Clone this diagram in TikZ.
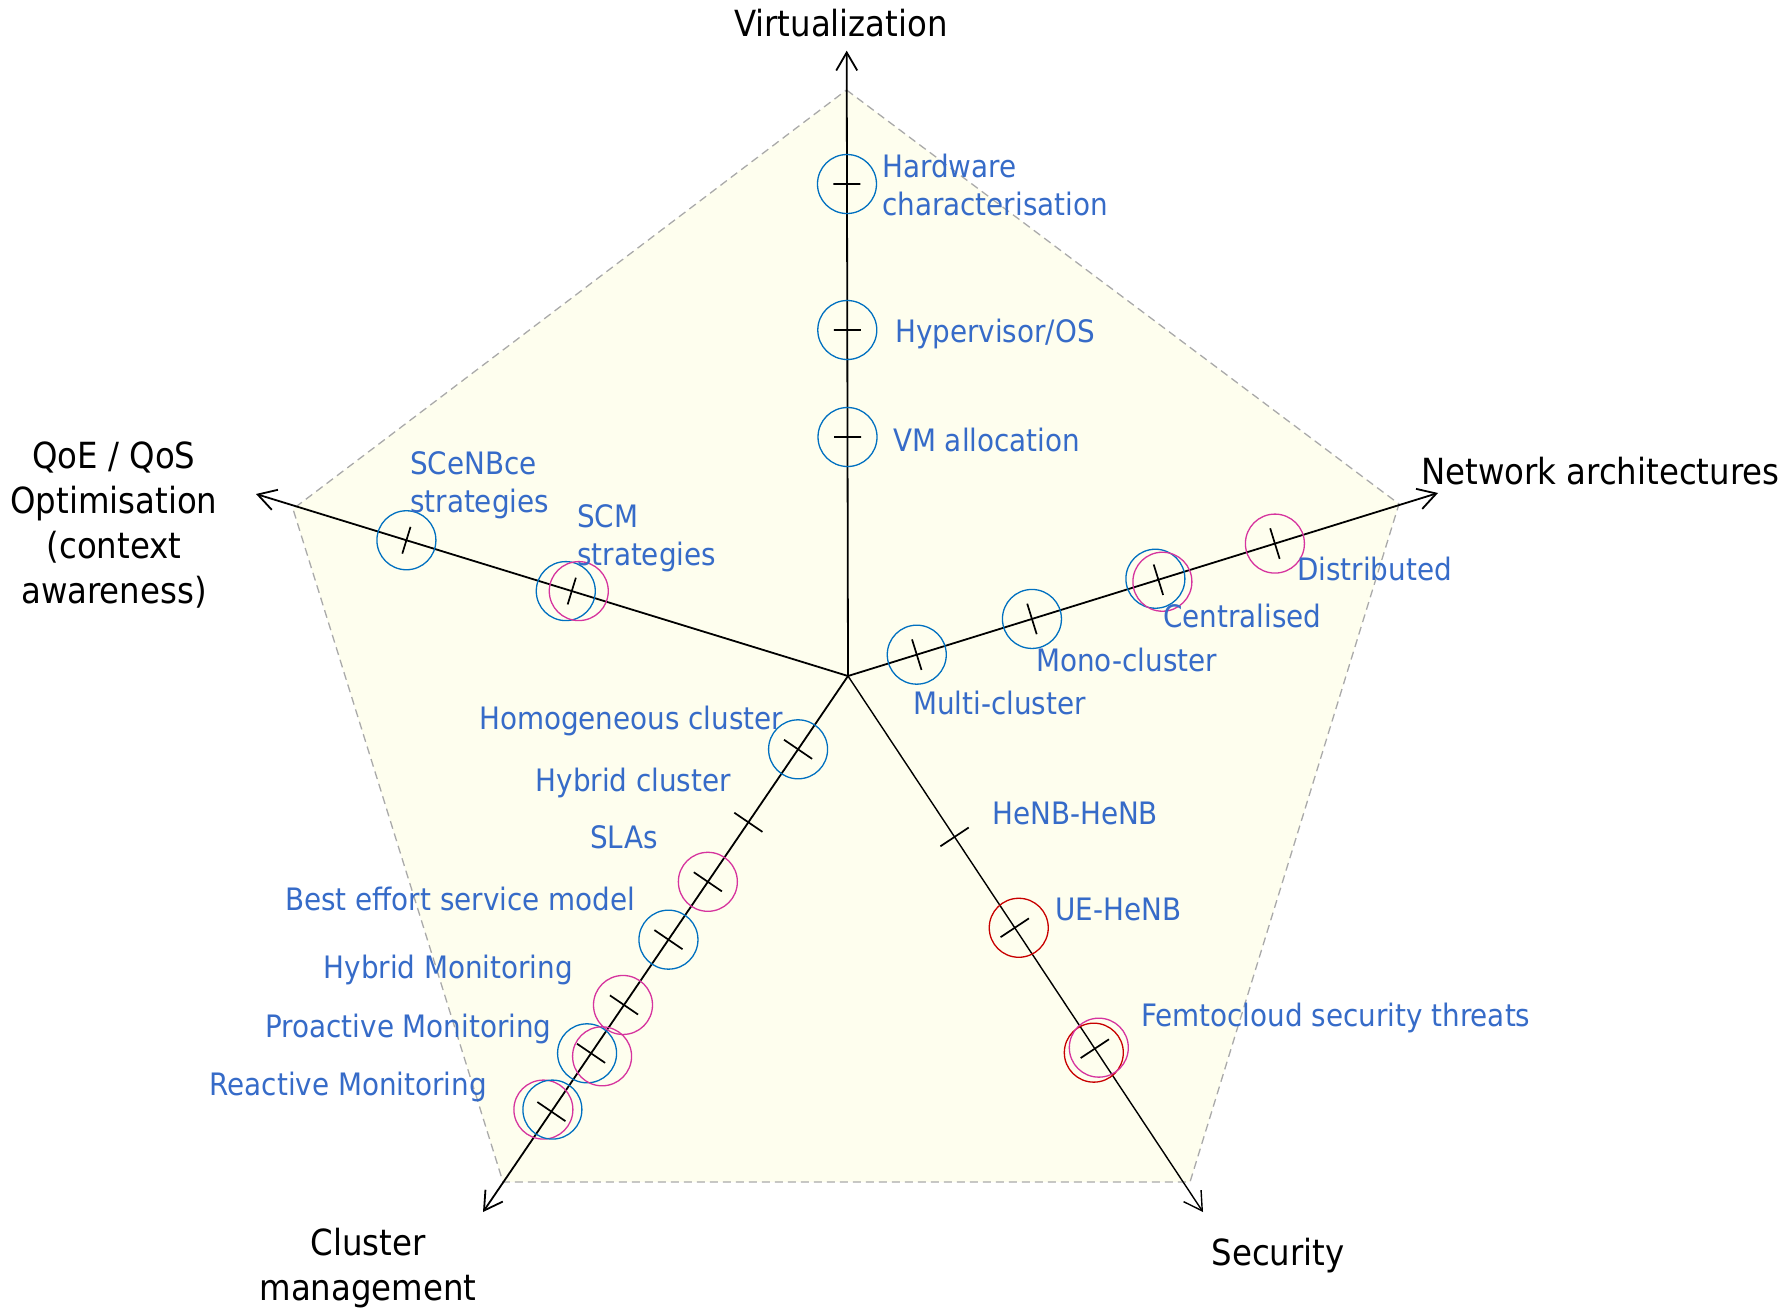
\documentclass[tikz,border=0pt]{standalone}
\usepackage{fontspec}
\IfFontExistsTF{DejaVu Sans Condensed}
  {\setmainfont{DejaVu Sans Condensed}\gdef\bsz{30.9}\gdef\ksz{36}}
  {\setmainfont{Liberation Sans}\gdef\bsz{31.5}\gdef\ksz{37}}
\usetikzlibrary{arrows.meta,calc}

\definecolor{txtblue}{RGB}{54,107,200}
\definecolor{ringblue}{RGB}{0,112,192}
\definecolor{ringpink}{RGB}{214,52,158}
\definecolor{ringred}{RGB}{200,0,0}
\definecolor{areafill}{RGB}{254,254,238}
\definecolor{framegray}{RGB}{170,170,170}

\begin{document}
\begin{tikzpicture}[x=1pt,y=-1pt,
  axisline/.style={line width=1.8pt,-{Straight Barb[length=18pt,width=21pt]}},
  tickmark/.style={line width=1.7pt},
  ring/.style={circle,draw=#1,line width=1.3pt,minimum size=59pt,inner sep=0pt},
  pentframe/.style={draw=framegray,line width=1.3pt,dash pattern=on 8pt off 5pt,fill=areafill},
  lbl/.style={font=\fontsize{\bsz}{38}\selectfont,text=txtblue,inner sep=0pt,anchor=west,text height=22.5pt,text depth=0pt},
  lbltwo/.style={font=\fontsize{\bsz}{38}\selectfont,text=txtblue,inner sep=0pt,anchor=west,align=left},
  axlbl/.style={font=\fontsize{\ksz}{45}\selectfont,inner sep=0pt,text height=26pt,text depth=0pt},
  axlbltwo/.style={font=\fontsize{\ksz}{45}\selectfont,inner sep=0pt,align=center}]

\useasboundingbox (0,0) rectangle (1788,1308);

% centre and axis ends
\coordinate (O) at (848,676);
\coordinate (tipV) at (846.7,50.7);
\coordinate (tipN) at (1438,493);
\coordinate (tipQ) at (256,494);
\coordinate (tipC) at (483,1212);
\coordinate (tipS) at (1203,1212);

% pentagon corners
\coordinate (pT) at (846.5,90);
\coordinate (pR) at (1399,504);
\coordinate (pBR) at (1190,1182);
\coordinate (pBL) at (503,1182);
\coordinate (pL) at (293,509);

\path[pentframe] (pT) -- (pR) -- (pBR) -- (pBL) -- (pL) -- cycle;

% axes
\draw[axisline] (O) -- (tipV);
\draw[axisline] (O) -- (tipN);
\draw[axisline] (O) -- (tipQ);
\draw[axisline] (O) -- (tipC);
\draw[axisline,line width=1.4pt] (O) -- (tipS);

% tick marks along the axes
\foreach \nm/\tp/\d/\h in {
  v1/tipV/492pt/13.5pt, v2/tipV/346pt/13.5pt, v3/tipV/239pt/13.5pt,
  n1/tipN/72pt/16pt, n2/tipN/192.6pt/16pt, n3/tipN/325pt/16pt, n4/tipN/447pt/16pt,
  q1/tipQ/462pt/14pt, q2/tipQ/289pt/14pt,
  c1/tipC/88.7pt/17pt, c2/tipC/177pt/17pt, c3/tipC/249pt/17pt, c4/tipC/319pt/17pt,
  c5/tipC/398pt/17pt, c6/tipC/456.5pt/17pt, c7/tipC/527pt/17pt,
  s1/tipS/193pt/17pt, s2/tipS/302pt/17pt, s3/tipS/447pt/17pt}
{
  \coordinate (\nm) at ($(O)!\d!(\tp)$);
  \draw[tickmark] ($(\nm)!\h!90:(O)$) -- ($(\nm)!\h!-90:(O)$);
}

% rings on the ticks
\node[ring=ringblue] (r-v1) at (v1) {};
\node[ring=ringblue] (r-v2) at (v2) {};
\node[ring=ringblue] (r-v3) at (v3) {};

\node[ring=ringblue] (r-q1) at (q1) {};
\node[ring=ringblue] (r-q2b) at ($(q2)+(-6,0)$) {};
\node[ring=ringpink] (r-q2p) at ($(q2)+(7,0)$) {};

\node[ring=ringblue] (r-n1) at (n1) {};
\node[ring=ringblue] (r-n2) at (n2) {};
\node[ring=ringblue] (r-n3b) at ($(n3)+(-3,-1)$) {};
\node[ring=ringpink] (r-n3p) at ($(n3)+(4,2)$) {};
\node[ring=ringpink] (r-n4) at (n4) {};

\node[ring=ringblue] (r-c1) at (c1) {};
\node[ring=ringpink] (r-c3) at (c3) {};
\node[ring=ringblue] (r-c4) at (c4) {};
\node[ring=ringpink] (r-c5) at ($(c5)+(-1,0)$) {};
\node[ring=ringblue] (r-c6b) at ($(c6)+(-4,0)$) {};
\node[ring=ringpink] (r-c6p) at ($(c6)+(11,3)$) {};
\node[ring=ringpink] (r-c7p) at ($(c7)+(-8,-2)$) {};
\node[ring=ringblue] (r-c7b) at ($(c7)+(1,-2)$) {};

\node[ring=ringred] (r-s2) at ($(s2)+(4,0)$) {};
\node[ring=ringred] (r-s3r) at ($(s3)+(-1,4)$) {};
\node[ring=ringpink] (r-s3p) at ($(s3)+(4,-1)$) {};

% axis titles
\node[axlbl] (t-virt) at (841,24) {Virtualization};
\node[axlbl,anchor=west] (t-net) at (1421,471) {Network architectures};
\node[axlbltwo] (t-qoe) at (114,525.5) {QoE / QoS\\Optimisation\\(context\\awareness)};
\node[axlbltwo] (t-clu) at (368,1268.5) {Cluster\\management};
\node[axlbl] (t-sec) at (1278,1252) {Security};

% item labels
\node[lbltwo] (l-hw) at (882,184.5) {Hardware\\characterisation};
\node[lbl] (l-hyp) at (895,331) {Hypervisor/OS};
\node[lbl] (l-vma) at (893,440) {VM allocation};

\node[lbltwo] (l-scen) at (410,485) {SCeNBce\\strategies};
\node[lbltwo] (l-scm) at (577,538) {SCM\\strategies};

\node[lbl] (l-dist) at (1297,569) {Distributed};
\node[lbl] (l-cent) at (1163,616) {Centralised};
\node[lbl] (l-mono) at (1036,660) {Mono-cluster};
\node[lbl] (l-multi) at (913,703.5) {Multi-cluster};

\node[lbl] (l-homo) at (479,718.5) {Homogeneous cluster};
\node[lbl] (l-hybc) at (535.5,780) {Hybrid cluster};
\node[lbl] (l-slas) at (590,837.5) {SLAs};
\node[lbl] (l-best) at (285,899.5) {Best effort service model};
\node[lbl] (l-hybm) at (323.5,967.5) {Hybrid Monitoring};
\node[lbl] (l-proa) at (265.5,1026) {Proactive Monitoring};
\node[lbl] (l-reac) at (209.5,1084.5) {Reactive Monitoring};

\node[lbl] (l-henb) at (992,813) {HeNB-HeNB};
\node[lbl] (l-ue) at (1055,909) {UE-HeNB};
\node[lbl] (l-femto) at (1141,1015) {Femtocloud security threats};

\end{tikzpicture}
\end{document}
